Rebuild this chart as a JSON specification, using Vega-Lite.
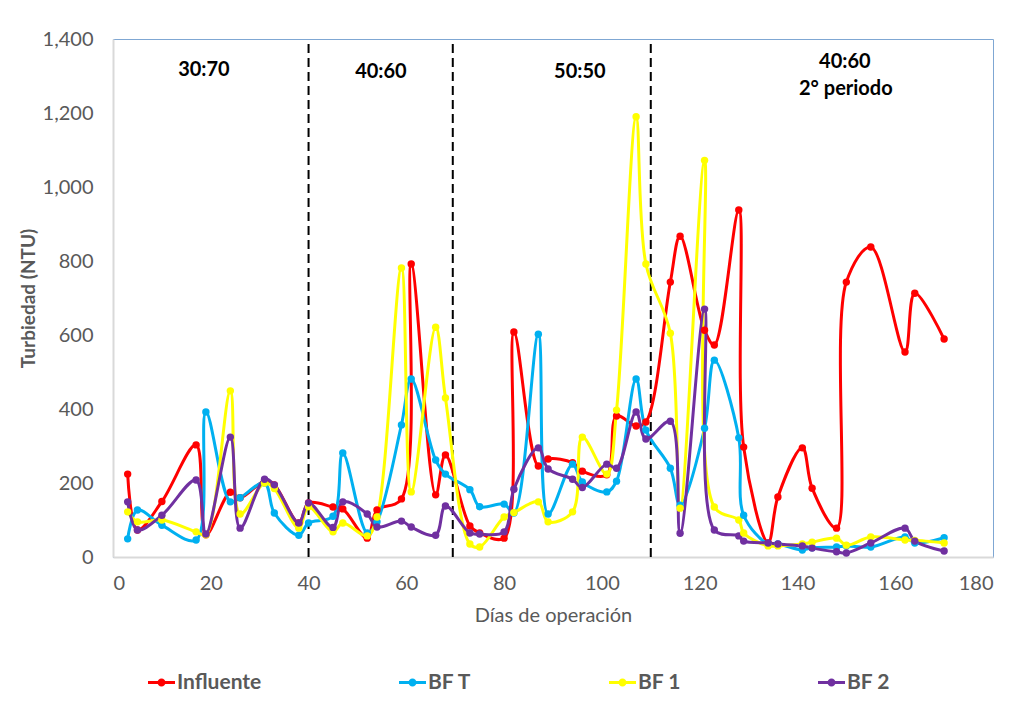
{
  "$schema": "https://vega.github.io/schema/vega-lite/v6.json",
  "width": 880,
  "height": 518,
  "autosize": {"type": "none"},
  "padding": {"left": 113, "top": 39, "right": 20, "bottom": 149},
  "background": "white",
  "config": {
    "font": "Lato",
    "view": {"stroke": "#7fa7d3", "strokeWidth": 1},
    "axis": {"grid": false, "ticks": false, "domainColor": "#d9d9d9", "domainWidth": 2, "labelColor": "#595959", "titleColor": "#595959", "labelFontSize": 20, "titleFontSize": 20, "labelFont": "Lato", "titleFont": "Lato"}
  },
  "datasets": {
    "series": [
      {"day": 3, "serie": "Influente", "v": 224}, {"day": 5, "serie": "Influente", "v": 73}, {"day": 10, "serie": "Influente", "v": 150}, {"day": 17, "serie": "Influente", "v": 303}, {"day": 19, "serie": "Influente", "v": 60}, {"day": 24, "serie": "Influente", "v": 175}, {"day": 26, "serie": "Influente", "v": 160}, {"day": 31, "serie": "Influente", "v": 205}, {"day": 33, "serie": "Influente", "v": 195}, {"day": 38, "serie": "Influente", "v": 92}, {"day": 40, "serie": "Influente", "v": 146}, {"day": 45, "serie": "Influente", "v": 135}, {"day": 47, "serie": "Influente", "v": 130}, {"day": 52, "serie": "Influente", "v": 51}, {"day": 54, "serie": "Influente", "v": 127}, {"day": 59, "serie": "Influente", "v": 157}, {"day": 61, "serie": "Influente", "v": 792}, {"day": 66, "serie": "Influente", "v": 168}, {"day": 68, "serie": "Influente", "v": 276}, {"day": 73, "serie": "Influente", "v": 84}, {"day": 75, "serie": "Influente", "v": 65}, {"day": 80, "serie": "Influente", "v": 51}, {"day": 82, "serie": "Influente", "v": 608}, {"day": 87, "serie": "Influente", "v": 246}, {"day": 89, "serie": "Influente", "v": 265}, {"day": 94, "serie": "Influente", "v": 255}, {"day": 96, "serie": "Influente", "v": 232}, {"day": 101, "serie": "Influente", "v": 222}, {"day": 103, "serie": "Influente", "v": 381}, {"day": 107, "serie": "Influente", "v": 354}, {"day": 109, "serie": "Influente", "v": 365}, {"day": 114, "serie": "Influente", "v": 743}, {"day": 116, "serie": "Influente", "v": 867}, {"day": 121, "serie": "Influente", "v": 613}, {"day": 123, "serie": "Influente", "v": 573}, {"day": 128, "serie": "Influente", "v": 938}, {"day": 129, "serie": "Influente", "v": 297}, {"day": 134, "serie": "Influente", "v": 38}, {"day": 136, "serie": "Influente", "v": 162}, {"day": 141, "serie": "Influente", "v": 295}, {"day": 143, "serie": "Influente", "v": 186}, {"day": 148, "serie": "Influente", "v": 78}, {"day": 150, "serie": "Influente", "v": 743}, {"day": 155, "serie": "Influente", "v": 838}, {"day": 162, "serie": "Influente", "v": 554}, {"day": 164, "serie": "Influente", "v": 713}, {"day": 170, "serie": "Influente", "v": 589},
      {"day": 3, "serie": "BF T", "v": 49}, {"day": 5, "serie": "BF T", "v": 127}, {"day": 10, "serie": "BF T", "v": 86}, {"day": 17, "serie": "BF T", "v": 46}, {"day": 19, "serie": "BF T", "v": 392}, {"day": 24, "serie": "BF T", "v": 149}, {"day": 26, "serie": "BF T", "v": 160}, {"day": 31, "serie": "BF T", "v": 200}, {"day": 33, "serie": "BF T", "v": 119}, {"day": 38, "serie": "BF T", "v": 59}, {"day": 40, "serie": "BF T", "v": 92}, {"day": 45, "serie": "BF T", "v": 110}, {"day": 47, "serie": "BF T", "v": 281}, {"day": 52, "serie": "BF T", "v": 65}, {"day": 54, "serie": "BF T", "v": 95}, {"day": 59, "serie": "BF T", "v": 357}, {"day": 61, "serie": "BF T", "v": 481}, {"day": 66, "serie": "BF T", "v": 262}, {"day": 68, "serie": "BF T", "v": 224}, {"day": 73, "serie": "BF T", "v": 182}, {"day": 75, "serie": "BF T", "v": 136}, {"day": 80, "serie": "BF T", "v": 143}, {"day": 82, "serie": "BF T", "v": 119}, {"day": 87, "serie": "BF T", "v": 602}, {"day": 89, "serie": "BF T", "v": 116}, {"day": 94, "serie": "BF T", "v": 251}, {"day": 96, "serie": "BF T", "v": 203}, {"day": 101, "serie": "BF T", "v": 176}, {"day": 103, "serie": "BF T", "v": 205}, {"day": 107, "serie": "BF T", "v": 481}, {"day": 109, "serie": "BF T", "v": 343}, {"day": 114, "serie": "BF T", "v": 240}, {"day": 116, "serie": "BF T", "v": 140}, {"day": 121, "serie": "BF T", "v": 348}, {"day": 123, "serie": "BF T", "v": 532}, {"day": 128, "serie": "BF T", "v": 322}, {"day": 129, "serie": "BF T", "v": 113}, {"day": 134, "serie": "BF T", "v": 35}, {"day": 136, "serie": "BF T", "v": 35}, {"day": 141, "serie": "BF T", "v": 19}, {"day": 143, "serie": "BF T", "v": 25}, {"day": 148, "serie": "BF T", "v": 27}, {"day": 150, "serie": "BF T", "v": 30}, {"day": 155, "serie": "BF T", "v": 27}, {"day": 162, "serie": "BF T", "v": 54}, {"day": 164, "serie": "BF T", "v": 38}, {"day": 170, "serie": "BF T", "v": 52},
      {"day": 3, "serie": "BF 1", "v": 122}, {"day": 5, "serie": "BF 1", "v": 95}, {"day": 10, "serie": "BF 1", "v": 100}, {"day": 17, "serie": "BF 1", "v": 68}, {"day": 19, "serie": "BF 1", "v": 60}, {"day": 24, "serie": "BF 1", "v": 449}, {"day": 26, "serie": "BF 1", "v": 116}, {"day": 31, "serie": "BF 1", "v": 200}, {"day": 33, "serie": "BF 1", "v": 185}, {"day": 38, "serie": "BF 1", "v": 78}, {"day": 40, "serie": "BF 1", "v": 136}, {"day": 45, "serie": "BF 1", "v": 68}, {"day": 47, "serie": "BF 1", "v": 92}, {"day": 52, "serie": "BF 1", "v": 57}, {"day": 54, "serie": "BF 1", "v": 108}, {"day": 59, "serie": "BF 1", "v": 781}, {"day": 61, "serie": "BF 1", "v": 176}, {"day": 66, "serie": "BF 1", "v": 621}, {"day": 68, "serie": "BF 1", "v": 430}, {"day": 73, "serie": "BF 1", "v": 35}, {"day": 75, "serie": "BF 1", "v": 27}, {"day": 80, "serie": "BF 1", "v": 108}, {"day": 82, "serie": "BF 1", "v": 120}, {"day": 87, "serie": "BF 1", "v": 149}, {"day": 89, "serie": "BF 1", "v": 95}, {"day": 94, "serie": "BF 1", "v": 122}, {"day": 96, "serie": "BF 1", "v": 324}, {"day": 101, "serie": "BF 1", "v": 224}, {"day": 103, "serie": "BF 1", "v": 397}, {"day": 107, "serie": "BF 1", "v": 1190}, {"day": 109, "serie": "BF 1", "v": 792}, {"day": 114, "serie": "BF 1", "v": 605}, {"day": 116, "serie": "BF 1", "v": 132}, {"day": 121, "serie": "BF 1", "v": 1072}, {"day": 123, "serie": "BF 1", "v": 135}, {"day": 128, "serie": "BF 1", "v": 100}, {"day": 129, "serie": "BF 1", "v": 65}, {"day": 134, "serie": "BF 1", "v": 30}, {"day": 136, "serie": "BF 1", "v": 30}, {"day": 141, "serie": "BF 1", "v": 35}, {"day": 143, "serie": "BF 1", "v": 40}, {"day": 148, "serie": "BF 1", "v": 51}, {"day": 150, "serie": "BF 1", "v": 32}, {"day": 155, "serie": "BF 1", "v": 54}, {"day": 162, "serie": "BF 1", "v": 46}, {"day": 164, "serie": "BF 1", "v": 45}, {"day": 170, "serie": "BF 1", "v": 38},
      {"day": 3, "serie": "BF 2", "v": 149}, {"day": 5, "serie": "BF 2", "v": 73}, {"day": 10, "serie": "BF 2", "v": 113}, {"day": 17, "serie": "BF 2", "v": 208}, {"day": 19, "serie": "BF 2", "v": 62}, {"day": 24, "serie": "BF 2", "v": 324}, {"day": 26, "serie": "BF 2", "v": 78}, {"day": 31, "serie": "BF 2", "v": 210}, {"day": 33, "serie": "BF 2", "v": 195}, {"day": 38, "serie": "BF 2", "v": 92}, {"day": 40, "serie": "BF 2", "v": 146}, {"day": 45, "serie": "BF 2", "v": 80}, {"day": 47, "serie": "BF 2", "v": 149}, {"day": 52, "serie": "BF 2", "v": 116}, {"day": 54, "serie": "BF 2", "v": 81}, {"day": 59, "serie": "BF 2", "v": 97}, {"day": 61, "serie": "BF 2", "v": 81}, {"day": 66, "serie": "BF 2", "v": 59}, {"day": 68, "serie": "BF 2", "v": 138}, {"day": 73, "serie": "BF 2", "v": 65}, {"day": 75, "serie": "BF 2", "v": 62}, {"day": 80, "serie": "BF 2", "v": 68}, {"day": 82, "serie": "BF 2", "v": 183}, {"day": 87, "serie": "BF 2", "v": 295}, {"day": 89, "serie": "BF 2", "v": 238}, {"day": 94, "serie": "BF 2", "v": 210}, {"day": 96, "serie": "BF 2", "v": 188}, {"day": 101, "serie": "BF 2", "v": 251}, {"day": 103, "serie": "BF 2", "v": 240}, {"day": 107, "serie": "BF 2", "v": 392}, {"day": 109, "serie": "BF 2", "v": 319}, {"day": 114, "serie": "BF 2", "v": 367}, {"day": 116, "serie": "BF 2", "v": 64}, {"day": 121, "serie": "BF 2", "v": 670}, {"day": 123, "serie": "BF 2", "v": 73}, {"day": 128, "serie": "BF 2", "v": 57}, {"day": 129, "serie": "BF 2", "v": 43}, {"day": 134, "serie": "BF 2", "v": 38}, {"day": 136, "serie": "BF 2", "v": 35}, {"day": 141, "serie": "BF 2", "v": 30}, {"day": 143, "serie": "BF 2", "v": 24}, {"day": 148, "serie": "BF 2", "v": 14}, {"day": 150, "serie": "BF 2", "v": 11}, {"day": 155, "serie": "BF 2", "v": 38}, {"day": 162, "serie": "BF 2", "v": 78}, {"day": 164, "serie": "BF 2", "v": 43}, {"day": 170, "serie": "BF 2", "v": 16}
    ],
    "dividers": [{"day": 40}, {"day": 69.5}, {"day": 110}],
    "labels": [
      {"day": 18.6, "v": 1316, "t": "30:70"},
      {"day": 54.8, "v": 1311, "t": "40:60"},
      {"day": 95.5, "v": 1311, "t": "50:50"},
      {"day": 149.7, "v": 1338, "t": "40:60"},
      {"day": 149.9, "v": 1266, "t": "2° periodo"}
    ]
  },
  "layer": [
    {
      "data": {"name": "dividers"},
      "mark": {"type": "rule", "color": "black", "strokeWidth": 2, "strokeDash": [9, 5]},
      "encoding": {
        "x": {"field": "day", "type": "quantitative", "scale": {"domain": [0, 180]}},
        "y": {"datum": 0, "type": "quantitative"},
        "y2": {"datum": 1400}
      }
    },
    {
      "data": {"name": "series"},
      "mark": {"type": "line", "interpolate": "catmull-rom", "strokeWidth": 3, "point": {"filled": true, "size": 55}},
      "encoding": {
        "x": {"field": "day", "type": "quantitative", "scale": {"domain": [0, 180], "nice": false}, "axis": {"values": [0, 20, 40, 60, 80, 100, 120, 140, 160, 180], "title": "Días de operación", "titleFontWeight": "normal", "labelPadding": 16, "titlePadding": 12}},
        "y": {"field": "v", "type": "quantitative", "scale": {"domain": [0, 1400], "nice": false}, "axis": {"values": [0, 200, 400, 600, 800, 1000, 1200, 1400], "format": ",.0f", "title": "Turbiedad (NTU)", "titleFontWeight": "bold", "titleFontSize": 19, "labelPadding": 20, "titlePadding": 4}},
        "color": {
          "field": "serie", "type": "nominal",
          "scale": {"domain": ["Influente", "BF T", "BF 1", "BF 2"], "range": ["#ff0000", "#00b0f0", "#ffff00", "#7030a0"]},
          "legend": {"title": null, "orient": "none", "direction": "horizontal", "legendX": 35, "legendY": 630, "columnPadding": 137, "gridAlign": "none", "labelFontSize": 21, "labelFontWeight": "bold", "labelColor": "#595959", "labelFont": "Lato", "labelOffset": 2, "symbolType": "M-1,-0.11L1,-0.11L1,0.11L-1,0.11Z M-0.3,0A0.3,0.3 0 1,1 0.3,0A0.3,0.3 0 1,1 -0.3,0Z", "symbolSize": 729, "symbolStrokeWidth": 0}
        },
        "order": {"field": "day", "type": "quantitative"}
      }
    },
    {
      "data": {"name": "labels"},
      "mark": {"type": "text", "fontWeight": "bold", "fontSize": 20, "color": "black", "font": "Lato"},
      "encoding": {
        "x": {"field": "day", "type": "quantitative"},
        "y": {"field": "v", "type": "quantitative"},
        "text": {"field": "t"}
      }
    }
  ]
}
